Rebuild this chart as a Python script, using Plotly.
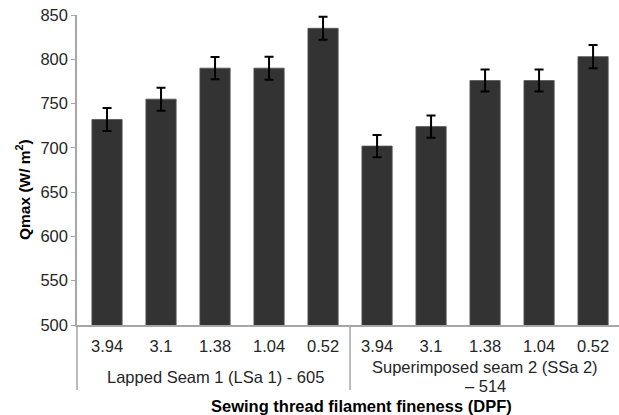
import plotly.graph_objects as go

# Filament fineness (DPF) per seam type
dpf_labels = ["3.94", "3.1", "1.38", "1.04", "0.52"]
seam_groups = ["Lapped Seam 1 (LSa 1) - 605", "Superimposed seam 2 (SSa 2)<br>– 514"]

# Peak heat flux Qmax (W/m²) and its error
qmax_lapped = [732, 755, 790, 790, 835]
qmax_superimposed = [702, 724, 776, 776, 803]
err_lapped = [13, 13, 12.5, 13, 13]
err_superimposed = [12.5, 12.5, 12.5, 12.5, 13]

tick_text = dpf_labels + dpf_labels
values = qmax_lapped + qmax_superimposed
errors = err_lapped + err_superimposed
xpos = list(range(len(values)))

font = "Liberation Sans, Arial, sans-serif"
axis_grey = "#a6a6a6"
text_col = "#262626"

# Plot area in pixels: x 77..619, y 15..325
PX_L, PX_W, PX_B, PX_H = 77, 542, 325, 310


def px_x(px):
    return (px - PX_L) / PX_W


def px_y(py):
    return (PX_B - py) / PX_H


fig = go.Figure(
    go.Bar(
        x=xpos,
        y=values,
        width=0.56,
        marker=dict(color="#333333", line=dict(color="#555555", width=0.8)),
        error_y=dict(type="data", array=errors, visible=True,
                     color="#000000", thickness=2, width=4.5),
    )
)

n = len(dpf_labels)
fig.update_layout(
    width=619, height=415,
    margin=dict(l=77, r=0, t=15, b=90),
    plot_bgcolor="white", paper_bgcolor="white",
    showlegend=False,
    font=dict(family=font, size=16, color=text_col),
    xaxis=dict(
        range=[-0.556, 9.48],
        tickmode="array", tickvals=xpos, ticktext=tick_text,
        showline=True, linecolor=axis_grey, linewidth=1.5,
        ticks="", showgrid=False, zeroline=False,
        ticklabelstandoff=5,
        tickfont=dict(size=16.5, color=text_col),
    ),
    yaxis=dict(
        range=[500, 850], tickvals=[500, 550, 600, 650, 700, 750, 800, 850],
        showline=True, linecolor=axis_grey, linewidth=1.5,
        ticks="outside", ticklen=4, tickcolor=axis_grey,
        showgrid=False, zeroline=False,
        tickfont=dict(size=16.5, color=text_col),
    ),
)

# Group dividers below the category labels
ybot = px_y(390)
fig.add_shape(type="line", xref="paper", yref="paper", x0=0, x1=0, y0=0, y1=ybot,
              line=dict(color=axis_grey, width=1.5))
fig.add_shape(type="line", xref="x", yref="paper", x0=n - 0.5, x1=n - 0.5, y0=0, y1=ybot,
              line=dict(color=axis_grey, width=1.5))

# Seam group labels centred under each group of bars, one line per annotation
# so the line spacing stays tight
group_lines_y = [[377], [367, 386]]
for g, label in enumerate(seam_groups):
    for line, py in zip(label.split("<br>"), group_lines_y[g]):
        fig.add_annotation(x=g * n + (n - 1) / 2, y=px_y(py), xref="x", yref="paper",
                           text=line, showarrow=False, borderpad=0,
                           font=dict(size=16.5, color=text_col),
                           xanchor="center", yanchor="middle")

# Axis titles
fig.add_annotation(x=px_x(361), y=px_y(405.5), xref="paper", yref="paper",
                   text="<b>Sewing thread filament fineness (DPF)</b>",
                   showarrow=False, borderpad=0, xanchor="center", yanchor="middle",
                   font=dict(size=16.5, color="#000000"))
fig.add_annotation(x=px_x(23), y=px_y(190), xref="paper", yref="paper",
                   text="<b>Qmax (W/ m<sup>2</sup>)</b>",
                   showarrow=False, textangle=-90,
                   xanchor="center", yanchor="middle",
                   font=dict(size=15.5, color="#000000"))

fig.write_html("out.html")
